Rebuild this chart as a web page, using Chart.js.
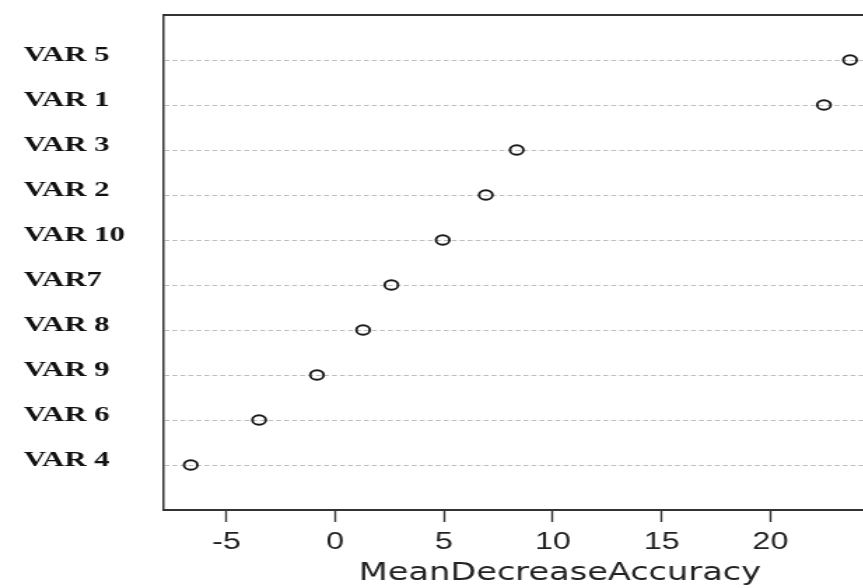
<!DOCTYPE html>
<html>
<head>
<meta charset="utf-8">
<script src="https://cdn.jsdelivr.net/npm/chart.js@4.4.1/dist/chart.umd.min.js"></script>
<style>
  html, body { margin: 0; padding: 0; background: #fff; overflow: hidden; }
  #wrap { width: 863px; height: 588px; overflow: hidden; }
</style>
</head>
<body>
<div id="wrap">
  <canvas id="myChart" width="683" height="588" style="width:956px;height:588px;display:block"></canvas>
</div>
<script>
// variables, top to bottom as in the plot
const varNames = ["VAR 5", "VAR 1", "VAR 3", "VAR 2", "VAR 10", "VAR7", "VAR 8", "VAR 9", "VAR 6", "VAR 4"];
const meanDecreaseAccuracy = [23.66, 22.46, 8.34, 6.92, 4.94, 2.58, 1.28, -0.84, -3.50, -6.64];
const xTicks = [-5, 0, 5, 10, 15, 20];

// box line on top of the plot region
const topBorder = {
  id: "topBorder",
  afterDraw(chart) {
    const { ctx, chartArea } = chart;
    ctx.save();
    ctx.strokeStyle = "#333";
    ctx.lineWidth = 2;
    ctx.beginPath();
    ctx.moveTo(chartArea.left - 1, chartArea.top);
    ctx.lineTo(chartArea.right, chartArea.top);
    ctx.stroke();
    ctx.restore();
  }
};

let points = [];
varNames.forEach((name, i) => {
  points.push({ x: meanDecreaseAccuracy[i], y: i + 1 });
});

let ctx = document.getElementById("myChart").getContext("2d");
new Chart(ctx, {
  type: "scatter",
  data: {
    datasets: [{
      label: "MeanDecreaseAccuracy",
      data: points,
      pointStyle: "circle",
      pointRadius: 4.8,
      pointBorderWidth: 1.9,
      pointBorderColor: "#1a1a1a",
      pointBackgroundColor: "rgba(0,0,0,0)"
    }]
  },
  options: {
    responsive: false,
    animation: false,
    devicePixelRatio: 1,
    layout: { padding: { left: 17, top: 15, right: 0, bottom: 0 }, autoPadding: false },
    plugins: {
      legend: { display: false },
      tooltip: { enabled: false }
    },
    scales: {
      x: {
        type: "linear",
        min: -7.88,
        max: 28.53,
        afterBuildTicks: scale => { scale.ticks = xTicks.map(v => ({ value: v })); },
        afterFit: scale => { scale.height = 78; },
        grid: {
          drawOnChartArea: false,
          drawTicks: true,
          tickLength: 12,
          tickColor: "#333",
          tickWidth: 1.4
        },
        border: { display: true, color: "#333", width: 2 },
        ticks: {
          color: "#222",
          padding: 7,
          maxRotation: 0,
          font: { family: "'Liberation Sans', Arial, sans-serif", size: 23 }
        },
        title: {
          display: true,
          text: "MeanDecreaseAccuracy",
          color: "#222",
          padding: { top: 0, bottom: 0 },
          font: { family: "'DejaVu Sans', sans-serif", size: 24 }
        }
      },
      y: {
        type: "linear",
        reverse: true,
        min: 0,
        max: 11,
        afterBuildTicks: scale => { scale.ticks = varNames.map((n, i) => ({ value: i + 1 })); },
        afterFit: scale => { scale.width = 100; },
        grid: {
          drawTicks: false,
          color: "#bdbdbd",
          lineWidth: 1
        },
        border: { display: true, color: "#333", width: 1.5, dash: [3.5, 2.2] },
        ticks: {
          crossAlign: "far",
          padding: 0,
          labelOffset: -5,
          color: "#111",
          font: { family: "'Liberation Serif', 'Times New Roman', serif", size: 22, weight: "bold" },
          callback: value => varNames[value - 1]
        }
      }
    }
  },
  plugins: [topBorder]
});
</script>
</body>
</html>
